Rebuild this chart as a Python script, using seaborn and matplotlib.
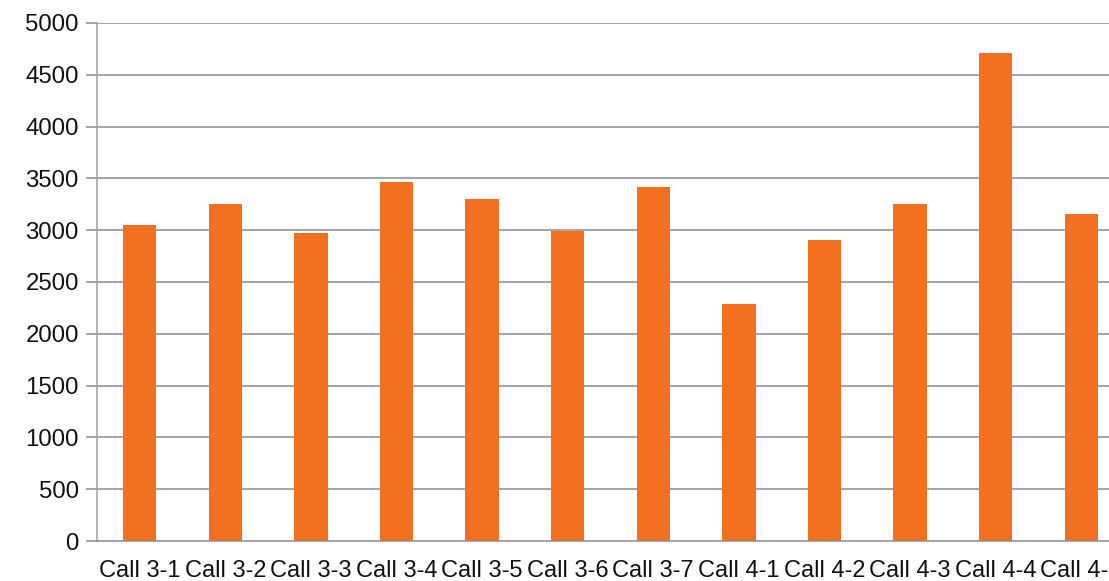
import numpy as np
import pandas as pd
import matplotlib
matplotlib.use("Agg")
import matplotlib.pyplot as plt
import seaborn as sns

# 数据
calls = ["Call 3-1", "Call 3-2", "Call 3-3", "Call 3-4", "Call 3-5", "Call 3-6",
         "Call 3-7", "Call 4-1", "Call 4-2", "Call 4-3", "Call 4-4", "Call 4-5"]
values = [3050, 3250, 2970, 3470, 3300, 2990, 3415, 2285, 2910, 3250, 4710, 3155]
y_ticks = [0, 500, 1000, 1500, 2000, 2500, 3000, 3500, 4000, 4500, 5000]

df = pd.DataFrame({"call": calls, "value": values})

sns.set_theme(style="white")
plt.rcParams['font.family'] = ['Liberation Sans', 'DejaVu Sans']

fig = plt.figure(figsize=(11.09, 5.81), dpi=100)
ax = fig.add_axes([97 / 1109, 40 / 581, 1027 / 1109, 518 / 581])

grid_color = "#8c8c8c"
for t in y_ticks[1:]:
    ax.axhline(t, color=grid_color, linewidth=1.1, zorder=0)

sns.barplot(data=df, x="call", y="value", color="#f37021", width=0.39,
            saturation=1, linewidth=0, ax=ax, zorder=2)

ax.set_ylim(0, 5000)
ax.set_xlim(-0.5, len(calls) - 0.5)
ax.set_yticks(y_ticks)
ax.set_yticklabels([str(t) for t in y_ticks], fontsize=17.3, color="#111111")
ax.set_xticks(range(len(calls)))
ax.set_xticklabels(calls, fontsize=17, color="#111111")
ax.set_xticks(np.arange(-0.5, len(calls), 1.0), minor=True)
ax.tick_params(axis="x", which="major", length=0, pad=14)
ax.tick_params(axis="x", which="minor", length=6, color=grid_color, width=1.1)
ax.tick_params(axis="y", length=8, color=grid_color, width=1.1, pad=5, left=True)
ax.set_xlabel("")
ax.set_ylabel("")

for s in ["top", "right"]:
    ax.spines[s].set_visible(False)
ax.spines["left"].set_color("#a0a0a0")
ax.spines["bottom"].set_color(grid_color)
ax.spines["left"].set_linewidth(1.1)
ax.spines["bottom"].set_linewidth(1.1)

fig.savefig("out.png", dpi=100)
